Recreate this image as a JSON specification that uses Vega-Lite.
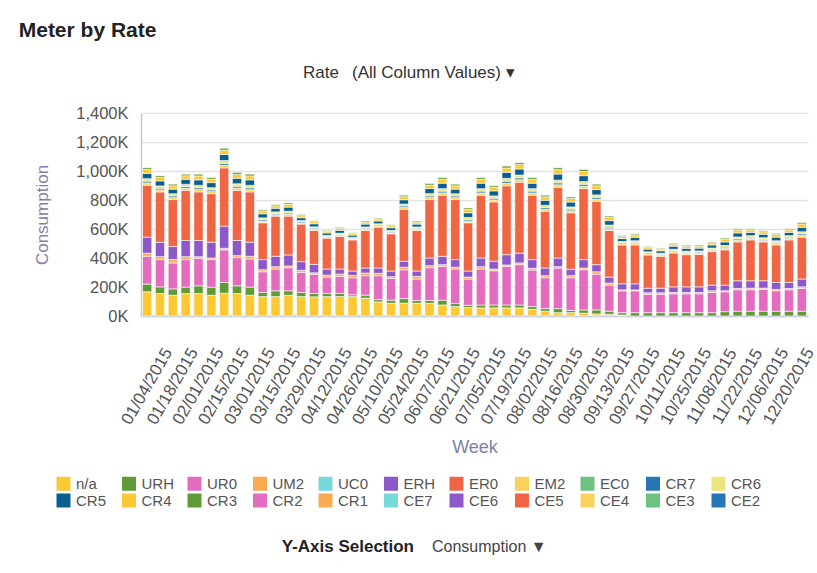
{
  "$schema": "https://vega.github.io/schema/vega-lite/v6.json",
  "background": "white",
  "padding": {"top": 20, "left": 18, "right": 0, "bottom": 0},
  "title": {"text": "Meter by Rate", "anchor": "start", "fontSize": 21, "fontWeight": "bold", "font": "Liberation Sans", "color": "#222222", "dx": -15, "offset": 10},
  "config": {"view": {"stroke": null}, "font": "Liberation Sans"},
  "spacing": 10,
  "vconcat": [
    {
      "width": 408,
      "height": 44,
      "data": {"values": [{"label": "Rate", "choice": "(All Column Values)  ▾"}]},
      "layer": [
        {"mark": {"type": "text", "align": "right", "dx": -6, "fontSize": 17, "color": "#333333"}, "encoding": {"text": {"field": "label"}}},
        {"mark": {"type": "text", "align": "left", "dx": 7, "fontSize": 17, "color": "#333333"}, "encoding": {"text": {"field": "choice"}}}
      ]
    },
    {
      "width": 667,
      "height": 203,
      "data": {"values": [
        {"week":"01/04/2015","rate":"n/a","kwh":167},{"week":"01/04/2015","rate":"URH","kwh":53},{"week":"01/04/2015","rate":"UR0","kwh":192},{"week":"01/04/2015","rate":"UM2","kwh":21},{"week":"01/04/2015","rate":"ERH","kwh":111},{"week":"01/04/2015","rate":"ER0","kwh":358},{"week":"01/04/2015","rate":"EM2","kwh":16},{"week":"01/04/2015","rate":"CR7","kwh":12},{"week":"01/04/2015","rate":"CR6","kwh":17},{"week":"01/04/2015","rate":"CR5","kwh":37},{"week":"01/04/2015","rate":"CR4","kwh":26},{"week":"01/04/2015","rate":"CR3","kwh":12},
        {"week":"01/11/2015","rate":"n/a","kwh":155},{"week":"01/11/2015","rate":"URH","kwh":46},{"week":"01/11/2015","rate":"UR0","kwh":188},{"week":"01/11/2015","rate":"UM2","kwh":20},{"week":"01/11/2015","rate":"ERH","kwh":100},{"week":"01/11/2015","rate":"ER0","kwh":347},{"week":"01/11/2015","rate":"EM2","kwh":14},{"week":"01/11/2015","rate":"CR7","kwh":11},{"week":"01/11/2015","rate":"CR6","kwh":16},{"week":"01/11/2015","rate":"CR5","kwh":35},{"week":"01/11/2015","rate":"CR4","kwh":24},{"week":"01/11/2015","rate":"CR3","kwh":11},
        {"week":"01/18/2015","rate":"n/a","kwh":143},{"week":"01/18/2015","rate":"URH","kwh":44},{"week":"01/18/2015","rate":"UR0","kwh":179},{"week":"01/18/2015","rate":"UM2","kwh":23},{"week":"01/18/2015","rate":"ERH","kwh":90},{"week":"01/18/2015","rate":"ER0","kwh":324},{"week":"01/18/2015","rate":"EM2","kwh":14},{"week":"01/18/2015","rate":"CR7","kwh":11},{"week":"01/18/2015","rate":"CR6","kwh":15},{"week":"01/18/2015","rate":"CR5","kwh":32},{"week":"01/18/2015","rate":"CR4","kwh":23},{"week":"01/18/2015","rate":"CR3","kwh":11},
        {"week":"01/25/2015","rate":"n/a","kwh":155},{"week":"01/25/2015","rate":"URH","kwh":44},{"week":"01/25/2015","rate":"UR0","kwh":190},{"week":"01/25/2015","rate":"UM2","kwh":20},{"week":"01/25/2015","rate":"ERH","kwh":112},{"week":"01/25/2015","rate":"ER0","kwh":346},{"week":"01/25/2015","rate":"EM2","kwh":15},{"week":"01/25/2015","rate":"CR7","kwh":11},{"week":"01/25/2015","rate":"CR6","kwh":15},{"week":"01/25/2015","rate":"CR5","kwh":35},{"week":"01/25/2015","rate":"CR4","kwh":24},{"week":"01/25/2015","rate":"CR3","kwh":11},
        {"week":"02/01/2015","rate":"n/a","kwh":155},{"week":"02/01/2015","rate":"URH","kwh":53},{"week":"02/01/2015","rate":"UR0","kwh":190},{"week":"02/01/2015","rate":"UM2","kwh":11},{"week":"02/01/2015","rate":"ERH","kwh":112},{"week":"02/01/2015","rate":"ER0","kwh":335},{"week":"02/01/2015","rate":"EM2","kwh":16},{"week":"02/01/2015","rate":"CR7","kwh":12},{"week":"02/01/2015","rate":"CR6","kwh":17},{"week":"02/01/2015","rate":"CR5","kwh":38},{"week":"02/01/2015","rate":"CR4","kwh":27},{"week":"02/01/2015","rate":"CR3","kwh":12},
        {"week":"02/08/2015","rate":"n/a","kwh":143},{"week":"02/08/2015","rate":"URH","kwh":56},{"week":"02/08/2015","rate":"UR0","kwh":190},{"week":"02/08/2015","rate":"UM2","kwh":11},{"week":"02/08/2015","rate":"ERH","kwh":109},{"week":"02/08/2015","rate":"ER0","kwh":335},{"week":"02/08/2015","rate":"EM2","kwh":14},{"week":"02/08/2015","rate":"CR7","kwh":11},{"week":"02/08/2015","rate":"CR6","kwh":16},{"week":"02/08/2015","rate":"CR5","kwh":35},{"week":"02/08/2015","rate":"CR4","kwh":24},{"week":"02/08/2015","rate":"CR3","kwh":11},
        {"week":"02/15/2015","rate":"n/a","kwh":157},{"week":"02/15/2015","rate":"URH","kwh":74},{"week":"02/15/2015","rate":"UR0","kwh":225},{"week":"02/15/2015","rate":"UM2","kwh":11},{"week":"02/15/2015","rate":"ERH","kwh":153},{"week":"02/15/2015","rate":"ER0","kwh":402},{"week":"02/15/2015","rate":"EM2","kwh":18},{"week":"02/15/2015","rate":"CR7","kwh":13},{"week":"02/15/2015","rate":"CR6","kwh":19},{"week":"02/15/2015","rate":"CR5","kwh":42},{"week":"02/15/2015","rate":"CR4","kwh":30},{"week":"02/15/2015","rate":"CR3","kwh":13},
        {"week":"02/22/2015","rate":"n/a","kwh":155},{"week":"02/22/2015","rate":"URH","kwh":53},{"week":"02/22/2015","rate":"UR0","kwh":195},{"week":"02/22/2015","rate":"UM2","kwh":13},{"week":"02/22/2015","rate":"ERH","kwh":105},{"week":"02/22/2015","rate":"ER0","kwh":346},{"week":"02/22/2015","rate":"EM2","kwh":16},{"week":"02/22/2015","rate":"CR7","kwh":12},{"week":"02/22/2015","rate":"CR6","kwh":17},{"week":"02/22/2015","rate":"CR5","kwh":38},{"week":"02/22/2015","rate":"CR4","kwh":27},{"week":"02/22/2015","rate":"CR3","kwh":13},
        {"week":"03/01/2015","rate":"n/a","kwh":143},{"week":"03/01/2015","rate":"URH","kwh":56},{"week":"03/01/2015","rate":"UR0","kwh":194},{"week":"03/01/2015","rate":"UM2","kwh":19},{"week":"03/01/2015","rate":"ERH","kwh":97},{"week":"03/01/2015","rate":"ER0","kwh":347},{"week":"03/01/2015","rate":"EM2","kwh":16},{"week":"03/01/2015","rate":"CR7","kwh":12},{"week":"03/01/2015","rate":"CR6","kwh":17},{"week":"03/01/2015","rate":"CR5","kwh":38},{"week":"03/01/2015","rate":"CR4","kwh":27},{"week":"03/01/2015","rate":"CR3","kwh":12},
        {"week":"03/08/2015","rate":"n/a","kwh":134},{"week":"03/08/2015","rate":"URH","kwh":28},{"week":"03/08/2015","rate":"UR0","kwh":143},{"week":"03/08/2015","rate":"UM2","kwh":14},{"week":"03/08/2015","rate":"ERH","kwh":70},{"week":"03/08/2015","rate":"ER0","kwh":254},{"week":"03/08/2015","rate":"EM2","kwh":12},{"week":"03/08/2015","rate":"CR7","kwh":9},{"week":"03/08/2015","rate":"CR6","kwh":13},{"week":"03/08/2015","rate":"CR5","kwh":28},{"week":"03/08/2015","rate":"CR4","kwh":20},{"week":"03/08/2015","rate":"CR3","kwh":8},
        {"week":"03/15/2015","rate":"n/a","kwh":134},{"week":"03/15/2015","rate":"URH","kwh":40},{"week":"03/15/2015","rate":"UR0","kwh":150},{"week":"03/15/2015","rate":"UM2","kwh":16},{"week":"03/15/2015","rate":"ERH","kwh":72},{"week":"03/15/2015","rate":"ER0","kwh":277},{"week":"03/15/2015","rate":"EM2","kwh":10},{"week":"03/15/2015","rate":"CR7","kwh":8},{"week":"03/15/2015","rate":"CR6","kwh":11},{"week":"03/15/2015","rate":"CR5","kwh":25},{"week":"03/15/2015","rate":"CR4","kwh":17},{"week":"03/15/2015","rate":"CR3","kwh":8},
        {"week":"03/22/2015","rate":"n/a","kwh":143},{"week":"03/22/2015","rate":"URH","kwh":31},{"week":"03/22/2015","rate":"UR0","kwh":159},{"week":"03/22/2015","rate":"UM2","kwh":12},{"week":"03/22/2015","rate":"ERH","kwh":76},{"week":"03/22/2015","rate":"ER0","kwh":268},{"week":"03/22/2015","rate":"EM2","kwh":12},{"week":"03/22/2015","rate":"CR7","kwh":9},{"week":"03/22/2015","rate":"CR6","kwh":13},{"week":"03/22/2015","rate":"CR5","kwh":28},{"week":"03/22/2015","rate":"CR4","kwh":20},{"week":"03/22/2015","rate":"CR3","kwh":9},
        {"week":"03/29/2015","rate":"n/a","kwh":134},{"week":"03/29/2015","rate":"URH","kwh":28},{"week":"03/29/2015","rate":"UR0","kwh":139},{"week":"03/29/2015","rate":"UM2","kwh":14},{"week":"03/29/2015","rate":"ERH","kwh":60},{"week":"03/29/2015","rate":"ER0","kwh":259},{"week":"03/29/2015","rate":"EM2","kwh":8},{"week":"03/29/2015","rate":"CR7","kwh":7},{"week":"03/29/2015","rate":"CR6","kwh":9},{"week":"03/29/2015","rate":"CR5","kwh":20},{"week":"03/29/2015","rate":"CR4","kwh":14},{"week":"03/29/2015","rate":"CR3","kwh":7},
        {"week":"04/05/2015","rate":"n/a","kwh":132},{"week":"04/05/2015","rate":"URH","kwh":23},{"week":"04/05/2015","rate":"UR0","kwh":132},{"week":"04/05/2015","rate":"UM2","kwh":11},{"week":"04/05/2015","rate":"ERH","kwh":58},{"week":"04/05/2015","rate":"ER0","kwh":234},{"week":"04/05/2015","rate":"EM2","kwh":9},{"week":"04/05/2015","rate":"CR7","kwh":7},{"week":"04/05/2015","rate":"CR6","kwh":9},{"week":"04/05/2015","rate":"CR5","kwh":21},{"week":"04/05/2015","rate":"CR4","kwh":15},{"week":"04/05/2015","rate":"CR3","kwh":6},
        {"week":"04/12/2015","rate":"n/a","kwh":134},{"week":"04/12/2015","rate":"URH","kwh":21},{"week":"04/12/2015","rate":"UR0","kwh":113},{"week":"04/12/2015","rate":"UM2","kwh":14},{"week":"04/12/2015","rate":"ERH","kwh":42},{"week":"04/12/2015","rate":"ER0","kwh":213},{"week":"04/12/2015","rate":"EM2","kwh":7},{"week":"04/12/2015","rate":"CR7","kwh":5},{"week":"04/12/2015","rate":"CR6","kwh":7},{"week":"04/12/2015","rate":"CR5","kwh":17},{"week":"04/12/2015","rate":"CR4","kwh":12},{"week":"04/12/2015","rate":"CR3","kwh":5},
        {"week":"04/19/2015","rate":"n/a","kwh":134},{"week":"04/19/2015","rate":"URH","kwh":21},{"week":"04/19/2015","rate":"UR0","kwh":118},{"week":"04/19/2015","rate":"UM2","kwh":16},{"week":"04/19/2015","rate":"ERH","kwh":35},{"week":"04/19/2015","rate":"ER0","kwh":224},{"week":"04/19/2015","rate":"EM2","kwh":8},{"week":"04/19/2015","rate":"CR7","kwh":6},{"week":"04/19/2015","rate":"CR6","kwh":9},{"week":"04/19/2015","rate":"CR5","kwh":20},{"week":"04/19/2015","rate":"CR4","kwh":14},{"week":"04/19/2015","rate":"CR3","kwh":6},
        {"week":"04/26/2015","rate":"n/a","kwh":134},{"week":"04/26/2015","rate":"URH","kwh":12},{"week":"04/26/2015","rate":"UR0","kwh":118},{"week":"04/26/2015","rate":"UM2","kwh":16},{"week":"04/26/2015","rate":"ERH","kwh":30},{"week":"04/26/2015","rate":"ER0","kwh":215},{"week":"04/26/2015","rate":"EM2","kwh":6},{"week":"04/26/2015","rate":"CR7","kwh":5},{"week":"04/26/2015","rate":"CR6","kwh":7},{"week":"04/26/2015","rate":"CR5","kwh":15},{"week":"04/26/2015","rate":"CR4","kwh":11},{"week":"04/26/2015","rate":"CR3","kwh":5},
        {"week":"05/03/2015","rate":"n/a","kwh":123},{"week":"05/03/2015","rate":"URH","kwh":21},{"week":"05/03/2015","rate":"UR0","kwh":134},{"week":"05/03/2015","rate":"UM2","kwh":18},{"week":"05/03/2015","rate":"ERH","kwh":35},{"week":"05/03/2015","rate":"ER0","kwh":259},{"week":"05/03/2015","rate":"EM2","kwh":8},{"week":"05/03/2015","rate":"CR7","kwh":7},{"week":"05/03/2015","rate":"CR6","kwh":9},{"week":"05/03/2015","rate":"CR5","kwh":20},{"week":"05/03/2015","rate":"CR4","kwh":14},{"week":"05/03/2015","rate":"CR3","kwh":7},
        {"week":"05/10/2015","rate":"n/a","kwh":97},{"week":"05/10/2015","rate":"URH","kwh":16},{"week":"05/10/2015","rate":"UR0","kwh":165},{"week":"05/10/2015","rate":"UM2","kwh":16},{"week":"05/10/2015","rate":"ERH","kwh":37},{"week":"05/10/2015","rate":"ER0","kwh":282},{"week":"05/10/2015","rate":"EM2","kwh":8},{"week":"05/10/2015","rate":"CR7","kwh":6},{"week":"05/10/2015","rate":"CR6","kwh":9},{"week":"05/10/2015","rate":"CR5","kwh":19},{"week":"05/10/2015","rate":"CR4","kwh":14},{"week":"05/10/2015","rate":"CR3","kwh":6},
        {"week":"05/17/2015","rate":"n/a","kwh":88},{"week":"05/17/2015","rate":"URH","kwh":21},{"week":"05/17/2015","rate":"UR0","kwh":150},{"week":"05/17/2015","rate":"UM2","kwh":12},{"week":"05/17/2015","rate":"ERH","kwh":39},{"week":"05/17/2015","rate":"ER0","kwh":257},{"week":"05/17/2015","rate":"EM2","kwh":8},{"week":"05/17/2015","rate":"CR7","kwh":6},{"week":"05/17/2015","rate":"CR6","kwh":9},{"week":"05/17/2015","rate":"CR5","kwh":19},{"week":"05/17/2015","rate":"CR4","kwh":14},{"week":"05/17/2015","rate":"CR3","kwh":6},
        {"week":"05/24/2015","rate":"n/a","kwh":88},{"week":"05/24/2015","rate":"URH","kwh":32},{"week":"05/24/2015","rate":"UR0","kwh":199},{"week":"05/24/2015","rate":"UM2","kwh":17},{"week":"05/24/2015","rate":"ERH","kwh":41},{"week":"05/24/2015","rate":"ER0","kwh":359},{"week":"05/24/2015","rate":"EM2","kwh":13},{"week":"05/24/2015","rate":"CR7","kwh":10},{"week":"05/24/2015","rate":"CR6","kwh":13},{"week":"05/24/2015","rate":"CR5","kwh":30},{"week":"05/24/2015","rate":"CR4","kwh":21},{"week":"05/24/2015","rate":"CR3","kwh":10},
        {"week":"05/31/2015","rate":"n/a","kwh":88},{"week":"05/31/2015","rate":"URH","kwh":19},{"week":"05/31/2015","rate":"UR0","kwh":148},{"week":"05/31/2015","rate":"UM2","kwh":18},{"week":"05/31/2015","rate":"ERH","kwh":37},{"week":"05/31/2015","rate":"ER0","kwh":280},{"week":"05/31/2015","rate":"EM2","kwh":9},{"week":"05/31/2015","rate":"CR7","kwh":6},{"week":"05/31/2015","rate":"CR6","kwh":9},{"week":"05/31/2015","rate":"CR5","kwh":20},{"week":"05/31/2015","rate":"CR4","kwh":14},{"week":"05/31/2015","rate":"CR3","kwh":7},
        {"week":"06/07/2015","rate":"n/a","kwh":88},{"week":"06/07/2015","rate":"URH","kwh":19},{"week":"06/07/2015","rate":"UR0","kwh":226},{"week":"06/07/2015","rate":"UM2","kwh":14},{"week":"06/07/2015","rate":"ERH","kwh":53},{"week":"06/07/2015","rate":"ER0","kwh":403},{"week":"06/07/2015","rate":"EM2","kwh":14},{"week":"06/07/2015","rate":"CR7","kwh":11},{"week":"06/07/2015","rate":"CR6","kwh":16},{"week":"06/07/2015","rate":"CR5","kwh":35},{"week":"06/07/2015","rate":"CR4","kwh":24},{"week":"06/07/2015","rate":"CR3","kwh":11},
        {"week":"06/14/2015","rate":"n/a","kwh":76},{"week":"06/14/2015","rate":"URH","kwh":33},{"week":"06/14/2015","rate":"UR0","kwh":233},{"week":"06/14/2015","rate":"UM2","kwh":12},{"week":"06/14/2015","rate":"ERH","kwh":58},{"week":"06/14/2015","rate":"ER0","kwh":421},{"week":"06/14/2015","rate":"EM2","kwh":16},{"week":"06/14/2015","rate":"CR7","kwh":12},{"week":"06/14/2015","rate":"CR6","kwh":17},{"week":"06/14/2015","rate":"CR5","kwh":38},{"week":"06/14/2015","rate":"CR4","kwh":27},{"week":"06/14/2015","rate":"CR3","kwh":12},
        {"week":"06/21/2015","rate":"n/a","kwh":65},{"week":"06/21/2015","rate":"URH","kwh":21},{"week":"06/21/2015","rate":"UR0","kwh":238},{"week":"06/21/2015","rate":"UM2","kwh":12},{"week":"06/21/2015","rate":"ERH","kwh":53},{"week":"06/21/2015","rate":"ER0","kwh":414},{"week":"06/21/2015","rate":"EM2","kwh":14},{"week":"06/21/2015","rate":"CR7","kwh":11},{"week":"06/21/2015","rate":"CR6","kwh":15},{"week":"06/21/2015","rate":"CR5","kwh":32},{"week":"06/21/2015","rate":"CR4","kwh":23},{"week":"06/21/2015","rate":"CR3","kwh":11},
        {"week":"06/28/2015","rate":"n/a","kwh":58},{"week":"06/28/2015","rate":"URH","kwh":16},{"week":"06/28/2015","rate":"UR0","kwh":181},{"week":"06/28/2015","rate":"UM2","kwh":13},{"week":"06/28/2015","rate":"ERH","kwh":42},{"week":"06/28/2015","rate":"ER0","kwh":333},{"week":"06/28/2015","rate":"EM2","kwh":13},{"week":"06/28/2015","rate":"CR7","kwh":10},{"week":"06/28/2015","rate":"CR6","kwh":14},{"week":"06/28/2015","rate":"CR5","kwh":32},{"week":"06/28/2015","rate":"CR4","kwh":23},{"week":"06/28/2015","rate":"CR3","kwh":10},
        {"week":"07/05/2015","rate":"n/a","kwh":56},{"week":"07/05/2015","rate":"URH","kwh":20},{"week":"07/05/2015","rate":"UR0","kwh":248},{"week":"07/05/2015","rate":"UM2","kwh":16},{"week":"07/05/2015","rate":"ERH","kwh":60},{"week":"07/05/2015","rate":"ER0","kwh":433},{"week":"07/05/2015","rate":"EM2","kwh":16},{"week":"07/05/2015","rate":"CR7","kwh":12},{"week":"07/05/2015","rate":"CR6","kwh":17},{"week":"07/05/2015","rate":"CR5","kwh":38},{"week":"07/05/2015","rate":"CR4","kwh":27},{"week":"07/05/2015","rate":"CR3","kwh":12},
        {"week":"07/12/2015","rate":"n/a","kwh":56},{"week":"07/12/2015","rate":"URH","kwh":20},{"week":"07/12/2015","rate":"UR0","kwh":236},{"week":"07/12/2015","rate":"UM2","kwh":12},{"week":"07/12/2015","rate":"ERH","kwh":53},{"week":"07/12/2015","rate":"ER0","kwh":410},{"week":"07/12/2015","rate":"EM2","kwh":14},{"week":"07/12/2015","rate":"CR7","kwh":11},{"week":"07/12/2015","rate":"CR6","kwh":16},{"week":"07/12/2015","rate":"CR5","kwh":35},{"week":"07/12/2015","rate":"CR4","kwh":24},{"week":"07/12/2015","rate":"CR3","kwh":11},
        {"week":"07/19/2015","rate":"n/a","kwh":56},{"week":"07/19/2015","rate":"URH","kwh":20},{"week":"07/19/2015","rate":"UR0","kwh":266},{"week":"07/19/2015","rate":"UM2","kwh":10},{"week":"07/19/2015","rate":"ERH","kwh":71},{"week":"07/19/2015","rate":"ER0","kwh":475},{"week":"07/19/2015","rate":"EM2","kwh":18},{"week":"07/19/2015","rate":"CR7","kwh":14},{"week":"07/19/2015","rate":"CR6","kwh":19},{"week":"07/19/2015","rate":"CR5","kwh":42},{"week":"07/19/2015","rate":"CR4","kwh":30},{"week":"07/19/2015","rate":"CR3","kwh":13},
        {"week":"07/26/2015","rate":"n/a","kwh":56},{"week":"07/26/2015","rate":"URH","kwh":20},{"week":"07/26/2015","rate":"UR0","kwh":278},{"week":"07/26/2015","rate":"UM2","kwh":12},{"week":"07/26/2015","rate":"ERH","kwh":67},{"week":"07/26/2015","rate":"ER0","kwh":490},{"week":"07/26/2015","rate":"EM2","kwh":17},{"week":"07/26/2015","rate":"CR7","kwh":13},{"week":"07/26/2015","rate":"CR6","kwh":19},{"week":"07/26/2015","rate":"CR5","kwh":42},{"week":"07/26/2015","rate":"CR4","kwh":30},{"week":"07/26/2015","rate":"CR3","kwh":13},
        {"week":"08/02/2015","rate":"n/a","kwh":46},{"week":"08/02/2015","rate":"URH","kwh":19},{"week":"08/02/2015","rate":"UR0","kwh":252},{"week":"08/02/2015","rate":"UM2","kwh":12},{"week":"08/02/2015","rate":"ERH","kwh":60},{"week":"08/02/2015","rate":"ER0","kwh":444},{"week":"08/02/2015","rate":"EM2","kwh":16},{"week":"08/02/2015","rate":"CR7","kwh":12},{"week":"08/02/2015","rate":"CR6","kwh":17},{"week":"08/02/2015","rate":"CR5","kwh":38},{"week":"08/02/2015","rate":"CR4","kwh":27},{"week":"08/02/2015","rate":"CR3","kwh":12},
        {"week":"08/09/2015","rate":"n/a","kwh":33},{"week":"08/09/2015","rate":"URH","kwh":18},{"week":"08/09/2015","rate":"UR0","kwh":213},{"week":"08/09/2015","rate":"UM2","kwh":14},{"week":"08/09/2015","rate":"ERH","kwh":53},{"week":"08/09/2015","rate":"ER0","kwh":391},{"week":"08/09/2015","rate":"EM2","kwh":14},{"week":"08/09/2015","rate":"CR7","kwh":11},{"week":"08/09/2015","rate":"CR6","kwh":16},{"week":"08/09/2015","rate":"CR5","kwh":35},{"week":"08/09/2015","rate":"CR4","kwh":24},{"week":"08/09/2015","rate":"CR3","kwh":11},
        {"week":"08/16/2015","rate":"n/a","kwh":23},{"week":"08/16/2015","rate":"URH","kwh":28},{"week":"08/16/2015","rate":"UR0","kwh":280},{"week":"08/16/2015","rate":"UM2","kwh":9},{"week":"08/16/2015","rate":"ERH","kwh":60},{"week":"08/16/2015","rate":"ER0","kwh":488},{"week":"08/16/2015","rate":"EM2","kwh":17},{"week":"08/16/2015","rate":"CR7","kwh":13},{"week":"08/16/2015","rate":"CR6","kwh":19},{"week":"08/16/2015","rate":"CR5","kwh":42},{"week":"08/16/2015","rate":"CR4","kwh":30},{"week":"08/16/2015","rate":"CR3","kwh":13},
        {"week":"08/23/2015","rate":"n/a","kwh":23},{"week":"08/23/2015","rate":"URH","kwh":16},{"week":"08/23/2015","rate":"UR0","kwh":225},{"week":"08/23/2015","rate":"UM2","kwh":14},{"week":"08/23/2015","rate":"ERH","kwh":44},{"week":"08/23/2015","rate":"ER0","kwh":390},{"week":"08/23/2015","rate":"EM2","kwh":14},{"week":"08/23/2015","rate":"CR7","kwh":11},{"week":"08/23/2015","rate":"CR6","kwh":15},{"week":"08/23/2015","rate":"CR5","kwh":34},{"week":"08/23/2015","rate":"CR4","kwh":24},{"week":"08/23/2015","rate":"CR3","kwh":11},
        {"week":"08/30/2015","rate":"n/a","kwh":19},{"week":"08/30/2015","rate":"URH","kwh":23},{"week":"08/30/2015","rate":"UR0","kwh":277},{"week":"08/30/2015","rate":"UM2","kwh":12},{"week":"08/30/2015","rate":"ERH","kwh":58},{"week":"08/30/2015","rate":"ER0","kwh":490},{"week":"08/30/2015","rate":"EM2","kwh":17},{"week":"08/30/2015","rate":"CR7","kwh":13},{"week":"08/30/2015","rate":"CR6","kwh":18},{"week":"08/30/2015","rate":"CR5","kwh":41},{"week":"08/30/2015","rate":"CR4","kwh":29},{"week":"08/30/2015","rate":"CR3","kwh":14},
        {"week":"09/06/2015","rate":"n/a","kwh":14},{"week":"09/06/2015","rate":"URH","kwh":28},{"week":"09/06/2015","rate":"UR0","kwh":247},{"week":"09/06/2015","rate":"UM2","kwh":16},{"week":"09/06/2015","rate":"ERH","kwh":49},{"week":"09/06/2015","rate":"ER0","kwh":437},{"week":"09/06/2015","rate":"EM2","kwh":15},{"week":"09/06/2015","rate":"CR7","kwh":12},{"week":"09/06/2015","rate":"CR6","kwh":17},{"week":"09/06/2015","rate":"CR5","kwh":37},{"week":"09/06/2015","rate":"CR4","kwh":26},{"week":"09/06/2015","rate":"CR3","kwh":11},
        {"week":"09/13/2015","rate":"n/a","kwh":12},{"week":"09/13/2015","rate":"URH","kwh":21},{"week":"09/13/2015","rate":"UR0","kwh":180},{"week":"09/13/2015","rate":"UM2","kwh":14},{"week":"09/13/2015","rate":"ERH","kwh":41},{"week":"09/13/2015","rate":"ER0","kwh":322},{"week":"09/13/2015","rate":"EM2","kwh":13},{"week":"09/13/2015","rate":"CR7","kwh":10},{"week":"09/13/2015","rate":"CR6","kwh":14},{"week":"09/13/2015","rate":"CR5","kwh":31},{"week":"09/13/2015","rate":"CR4","kwh":22},{"week":"09/13/2015","rate":"CR3","kwh":9},
        {"week":"09/20/2015","rate":"n/a","kwh":7},{"week":"09/20/2015","rate":"URH","kwh":16},{"week":"09/20/2015","rate":"UR0","kwh":151},{"week":"09/20/2015","rate":"UM2","kwh":6},{"week":"09/20/2015","rate":"ERH","kwh":42},{"week":"09/20/2015","rate":"ER0","kwh":268},{"week":"09/20/2015","rate":"EM2","kwh":8},{"week":"09/20/2015","rate":"CR7","kwh":7},{"week":"09/20/2015","rate":"CR6","kwh":9},{"week":"09/20/2015","rate":"CR5","kwh":20},{"week":"09/20/2015","rate":"CR4","kwh":14},{"week":"09/20/2015","rate":"CR3","kwh":7},
        {"week":"09/27/2015","rate":"URH","kwh":23},{"week":"09/27/2015","rate":"UR0","kwh":151},{"week":"09/27/2015","rate":"UM2","kwh":6},{"week":"09/27/2015","rate":"ERH","kwh":42},{"week":"09/27/2015","rate":"ER0","kwh":268},{"week":"09/27/2015","rate":"EM2","kwh":10},{"week":"09/27/2015","rate":"CR7","kwh":8},{"week":"09/27/2015","rate":"CR6","kwh":11},{"week":"09/27/2015","rate":"CR5","kwh":24},{"week":"09/27/2015","rate":"CR4","kwh":17},{"week":"09/27/2015","rate":"CR3","kwh":7},
        {"week":"10/04/2015","rate":"URH","kwh":23},{"week":"10/04/2015","rate":"UR0","kwh":127},{"week":"10/04/2015","rate":"UM2","kwh":10},{"week":"10/04/2015","rate":"ERH","kwh":32},{"week":"10/04/2015","rate":"ER0","kwh":229},{"week":"10/04/2015","rate":"EM2","kwh":8},{"week":"10/04/2015","rate":"CR7","kwh":6},{"week":"10/04/2015","rate":"CR6","kwh":8},{"week":"10/04/2015","rate":"CR5","kwh":18},{"week":"10/04/2015","rate":"CR4","kwh":13},{"week":"10/04/2015","rate":"CR3","kwh":5},
        {"week":"10/11/2015","rate":"URH","kwh":23},{"week":"10/11/2015","rate":"UR0","kwh":127},{"week":"10/11/2015","rate":"UM2","kwh":10},{"week":"10/11/2015","rate":"ERH","kwh":32},{"week":"10/11/2015","rate":"ER0","kwh":220},{"week":"10/11/2015","rate":"EM2","kwh":7},{"week":"10/11/2015","rate":"CR7","kwh":6},{"week":"10/11/2015","rate":"CR6","kwh":8},{"week":"10/11/2015","rate":"CR5","kwh":17},{"week":"10/11/2015","rate":"CR4","kwh":12},{"week":"10/11/2015","rate":"CR3","kwh":5},
        {"week":"10/18/2015","rate":"URH","kwh":23},{"week":"10/18/2015","rate":"UR0","kwh":130},{"week":"10/18/2015","rate":"UM2","kwh":9},{"week":"10/18/2015","rate":"ERH","kwh":39},{"week":"10/18/2015","rate":"ER0","kwh":234},{"week":"10/18/2015","rate":"EM2","kwh":9},{"week":"10/18/2015","rate":"CR7","kwh":7},{"week":"10/18/2015","rate":"CR6","kwh":9},{"week":"10/18/2015","rate":"CR5","kwh":21},{"week":"10/18/2015","rate":"CR4","kwh":15},{"week":"10/18/2015","rate":"CR3","kwh":6},
        {"week":"10/25/2015","rate":"URH","kwh":23},{"week":"10/25/2015","rate":"UR0","kwh":130},{"week":"10/25/2015","rate":"UM2","kwh":9},{"week":"10/25/2015","rate":"ERH","kwh":39},{"week":"10/25/2015","rate":"ER0","kwh":222},{"week":"10/25/2015","rate":"EM2","kwh":8},{"week":"10/25/2015","rate":"CR7","kwh":7},{"week":"10/25/2015","rate":"CR6","kwh":9},{"week":"10/25/2015","rate":"CR5","kwh":20},{"week":"10/25/2015","rate":"CR4","kwh":14},{"week":"10/25/2015","rate":"CR3","kwh":7},
        {"week":"11/01/2015","rate":"URH","kwh":23},{"week":"11/01/2015","rate":"UR0","kwh":130},{"week":"11/01/2015","rate":"UM2","kwh":9},{"week":"11/01/2015","rate":"ERH","kwh":39},{"week":"11/01/2015","rate":"ER0","kwh":224},{"week":"11/01/2015","rate":"EM2","kwh":8},{"week":"11/01/2015","rate":"CR7","kwh":7},{"week":"11/01/2015","rate":"CR6","kwh":9},{"week":"11/01/2015","rate":"CR5","kwh":19},{"week":"11/01/2015","rate":"CR4","kwh":14},{"week":"11/01/2015","rate":"CR3","kwh":7},
        {"week":"11/08/2015","rate":"URH","kwh":23},{"week":"11/08/2015","rate":"UR0","kwh":139},{"week":"11/08/2015","rate":"UM2","kwh":12},{"week":"11/08/2015","rate":"ERH","kwh":39},{"week":"11/08/2015","rate":"ER0","kwh":231},{"week":"11/08/2015","rate":"EM2","kwh":9},{"week":"11/08/2015","rate":"CR7","kwh":7},{"week":"11/08/2015","rate":"CR6","kwh":9},{"week":"11/08/2015","rate":"CR5","kwh":21},{"week":"11/08/2015","rate":"CR4","kwh":15},{"week":"11/08/2015","rate":"CR3","kwh":6},
        {"week":"11/15/2015","rate":"URH","kwh":30},{"week":"11/15/2015","rate":"UR0","kwh":137},{"week":"11/15/2015","rate":"UM2","kwh":7},{"week":"11/15/2015","rate":"ERH","kwh":39},{"week":"11/15/2015","rate":"ER0","kwh":243},{"week":"11/15/2015","rate":"EM2","kwh":11},{"week":"11/15/2015","rate":"CR7","kwh":8},{"week":"11/15/2015","rate":"CR6","kwh":11},{"week":"11/15/2015","rate":"CR5","kwh":25},{"week":"11/15/2015","rate":"CR4","kwh":18},{"week":"11/15/2015","rate":"CR3","kwh":8},
        {"week":"11/22/2015","rate":"URH","kwh":33},{"week":"11/22/2015","rate":"UR0","kwh":148},{"week":"11/22/2015","rate":"UM2","kwh":9},{"week":"11/22/2015","rate":"ERH","kwh":53},{"week":"11/22/2015","rate":"ER0","kwh":268},{"week":"11/22/2015","rate":"EM2","kwh":12},{"week":"11/22/2015","rate":"CR7","kwh":9},{"week":"11/22/2015","rate":"CR6","kwh":13},{"week":"11/22/2015","rate":"CR5","kwh":28},{"week":"11/22/2015","rate":"CR4","kwh":20},{"week":"11/22/2015","rate":"CR3","kwh":8},
        {"week":"11/29/2015","rate":"URH","kwh":33},{"week":"11/29/2015","rate":"UR0","kwh":148},{"week":"11/29/2015","rate":"UM2","kwh":11},{"week":"11/29/2015","rate":"ERH","kwh":51},{"week":"11/29/2015","rate":"ER0","kwh":282},{"week":"11/29/2015","rate":"EM2","kwh":10},{"week":"11/29/2015","rate":"CR7","kwh":8},{"week":"11/29/2015","rate":"CR6","kwh":11},{"week":"11/29/2015","rate":"CR5","kwh":23},{"week":"11/29/2015","rate":"CR4","kwh":17},{"week":"11/29/2015","rate":"CR3","kwh":7},
        {"week":"12/06/2015","rate":"URH","kwh":33},{"week":"12/06/2015","rate":"UR0","kwh":150},{"week":"12/06/2015","rate":"UM2","kwh":9},{"week":"12/06/2015","rate":"ERH","kwh":51},{"week":"12/06/2015","rate":"ER0","kwh":268},{"week":"12/06/2015","rate":"EM2","kwh":10},{"week":"12/06/2015","rate":"CR7","kwh":8},{"week":"12/06/2015","rate":"CR6","kwh":11},{"week":"12/06/2015","rate":"CR5","kwh":24},{"week":"12/06/2015","rate":"CR4","kwh":17},{"week":"12/06/2015","rate":"CR3","kwh":7},
        {"week":"12/13/2015","rate":"URH","kwh":33},{"week":"12/13/2015","rate":"UR0","kwh":141},{"week":"12/13/2015","rate":"UM2","kwh":9},{"week":"12/13/2015","rate":"ERH","kwh":48},{"week":"12/13/2015","rate":"ER0","kwh":259},{"week":"12/13/2015","rate":"EM2","kwh":10},{"week":"12/13/2015","rate":"CR7","kwh":8},{"week":"12/13/2015","rate":"CR6","kwh":11},{"week":"12/13/2015","rate":"CR5","kwh":25},{"week":"12/13/2015","rate":"CR4","kwh":17},{"week":"12/13/2015","rate":"CR3","kwh":8},
        {"week":"12/20/2015","rate":"URH","kwh":33},{"week":"12/20/2015","rate":"UR0","kwh":148},{"week":"12/20/2015","rate":"UM2","kwh":9},{"week":"12/20/2015","rate":"ERH","kwh":41},{"week":"12/20/2015","rate":"ER0","kwh":294},{"week":"12/20/2015","rate":"EM2","kwh":10},{"week":"12/20/2015","rate":"CR7","kwh":8},{"week":"12/20/2015","rate":"CR6","kwh":11},{"week":"12/20/2015","rate":"CR5","kwh":23},{"week":"12/20/2015","rate":"CR4","kwh":17},{"week":"12/20/2015","rate":"CR3","kwh":7},
        {"week":"12/27/2015","rate":"URH","kwh":33},{"week":"12/27/2015","rate":"UR0","kwh":157},{"week":"12/27/2015","rate":"UM2","kwh":11},{"week":"12/27/2015","rate":"ERH","kwh":54},{"week":"12/27/2015","rate":"ER0","kwh":289},{"week":"12/27/2015","rate":"EM2","kwh":13},{"week":"12/27/2015","rate":"CR7","kwh":10},{"week":"12/27/2015","rate":"CR6","kwh":14},{"week":"12/27/2015","rate":"CR5","kwh":31},{"week":"12/27/2015","rate":"CR4","kwh":23},{"week":"12/27/2015","rate":"CR3","kwh":10}
      ]},
      "mark": {"type": "bar", "stroke": "white", "strokeWidth": 0.6},
      "encoding": {
        "x": {
          "field": "week", "type": "ordinal", "title": "Week",
          "scale": {"paddingInner": 0.28, "paddingOuter": 0.12},
          "axis": {
            "values": ["01/04/2015","01/18/2015","02/01/2015","02/15/2015","03/01/2015","03/15/2015","03/29/2015","04/12/2015","04/26/2015","05/10/2015","05/24/2015","06/07/2015","06/21/2015","07/05/2015","07/19/2015","08/02/2015","08/16/2015","08/30/2015","09/13/2015","09/27/2015","10/11/2015","10/25/2015","11/08/2015","11/22/2015","12/06/2015","12/20/2015"],
            "labelAngle": -60, "labelAlign": "center", "labelBaseline": "middle", "labelPadding": 70,
            "ticks": false, "tickSize": 0, "labelFontSize": 17, "labelColor": "#555555", "labelOverlap": false, "labelFlush": false,
            "titleFontSize": 18, "titleColor": "#7e80a8", "titleFontWeight": "normal", "titlePadding": 12,
            "domainColor": "#c5c8d8", "domainWidth": 1.5
          }
        },
        "y": {
          "field": "kwh", "type": "quantitative", "stack": "zero", "title": "Consumption",
          "scale": {"domain": [0, 1400], "nice": false},
          "axis": {
            "values": [0, 200, 400, 600, 800, 1000, 1200, 1400],
            "labelExpr": "format(datum.value, ',') + 'K'",
            "ticks": false, "labelPadding": 13, "labelFontSize": 16.5, "labelColor": "#555555",
            "gridColor": "#e3e3e3", "gridWidth": 1.5, "domainColor": "#c5c8d8", "domainWidth": 1.5,
            "titleFontSize": 17, "titleColor": "#7e80a8", "titleFontWeight": "normal", "titlePadding": 24
          }
        },
        "color": {
          "field": "rate", "type": "nominal",
          "scale": {
            "domain": ["n/a","URH","UR0","UM2","UC0","ERH","ER0","EM2","EC0","CR7","CR6","CR5","CR4","CR3","CR2","CR1","CE7","CE6","CE5","CE4","CE3","CE2"],
            "range": ["#fcc935","#5e9a35","#e36cbe","#f9ab52","#77d8da","#8d58c9","#ef6644","#f8d25b","#6cc281","#2777b7","#eae57c","#0a5f8e","#fcc935","#5e9a35","#e36cbe","#f9ab52","#77d8da","#8d58c9","#ef6644","#f8d25b","#6cc281","#2777b7"]
          },
          "legend": {
            "orient": "none", "legendX": -85, "legendY": 425, "columns": 11, "direction": "horizontal", "title": null,
            "symbolType": "square", "symbolSize": 196, "symbolStrokeWidth": 0, "labelFontSize": 15, "labelColor": "#555555",
            "gridAlign": "all", "columnPadding": 12.5, "rowPadding": 1, "labelOffset": 5
          }
        }
      }
    },
    {
      "width": 562,
      "height": 30,
      "data": {"values": [{"label": "Y-Axis Selection", "choice": "Consumption   ▼"}]},
      "layer": [
        {"mark": {"type": "text", "align": "right", "dx": -8, "dy": 65, "fontSize": 17, "fontWeight": "bold", "color": "#222222"}, "encoding": {"text": {"field": "label"}}},
        {"mark": {"type": "text", "align": "left", "dx": 10, "dy": 65, "fontSize": 16, "color": "#444444"}, "encoding": {"text": {"field": "choice"}}}
      ]
    }
  ]
}
